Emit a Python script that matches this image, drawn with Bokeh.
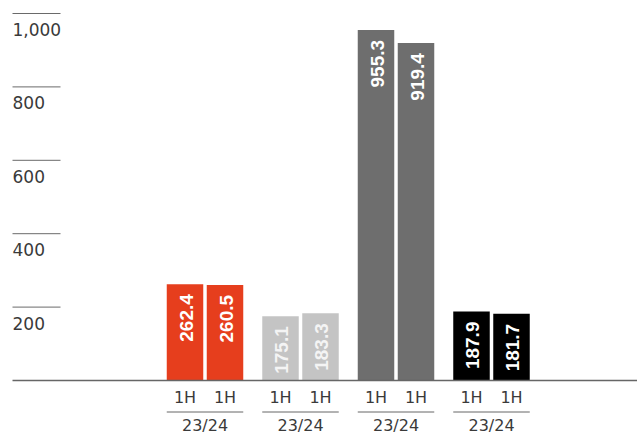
import math
from bokeh.plotting import figure
from bokeh.models import ColumnDataSource, Range1d
from bokeh.core.properties import value
from bokeh.embed import file_html
from bokeh.resources import INLINE

# ---- data ----
group_labels = ["23/24", "23/24", "23/24", "23/24"]
bar_labels = ["1H", "1H"]
first_values = [262.4, 175.1, 955.3, 187.9]
second_values = [260.5, 183.3, 919.4, 181.7]
group_colors = ["#e63e1d", "#c4c4c4", "#6e6e6e", "#000000"]
label_colors = ["#ffffff", "#f4f4f4", "#ffffff", "#ffffff"]
y_ticks = [200, 400, 600, 800, 1000]
y_tick_labels = ["200", "400", "600", "800", "1,000"]

# ---- layout ----
W, H = 637, 434
PX_X = 95.5           # pixels per group
X0 = -204.5 / PX_X
X1 = X0 + W / PX_X
PX_Y = 0.367          # pixels per unit
Y1 = 1000 + 13 / PX_Y
Y0 = -(H - 380) / PX_Y
OFF = 20 / PX_X
BW = 36.5 / PX_X

p = figure(width=W, height=H, output_backend="svg", toolbar_location=None,
           x_range=Range1d(X0, X1), y_range=Range1d(Y0, Y1),
           x_axis_type=None, y_axis_type=None, min_border=0)
p.outline_line_color = None
p.grid.visible = False
p.background_fill_color = "white"
p.border_fill_color = "white"

xs, tops, cols, lcols, blabels = [], [], [], [], []
for i in range(len(group_labels)):
    for j, v in enumerate([first_values[i], second_values[i]]):
        xs.append(i + (-OFF if j == 0 else OFF))
        tops.append(v)
        cols.append(group_colors[i])
        lcols.append(label_colors[i])
        blabels.append(bar_labels[j])

src = ColumnDataSource(dict(x=xs, top=tops, color=cols, lcolor=lcols,
                            txt=[f"{t:.1f}" for t in tops], blab=blabels))

# short gridlines at left
gx0 = X0 + 12 / PX_X
gx1 = X0 + 60 / PX_X
p.segment(x0=[gx0] * len(y_ticks), x1=[gx1] * len(y_ticks), y0=y_ticks, y1=y_ticks,
          line_color="#6a6a6a", line_width=1)
p.text(x=[gx0] * len(y_ticks), y=y_ticks, text=y_tick_labels, y_offset=16,
       text_font=value("DejaVu Sans"), text_font_size="17px", text_color="#3a3a3a",
       text_align="left", text_baseline="alphabetic")

# bars
p.vbar(x="x", top="top", bottom=0, width=BW, fill_color="color", line_color=None, source=src)

# baseline
p.segment(x0=[gx0], x1=[X1], y0=[0], y1=[0], line_color="#666666", line_width=1.5)

# value labels (rotated)
p.text(x="x", y="top", text="txt", angle=math.pi / 2, x_offset=1, y_offset=10,
       text_font=value("Liberation Sans"), text_font_style="bold", text_font_size="19px",
       text_color="lcolor", text_align="right", text_baseline="middle", source=src)

# category labels
p.text(x="x", y=0, text="blab", y_offset=17,
       text_font=value("DejaVu Sans"), text_font_size="16px", text_color="#3a3a3a",
       text_align="center", text_baseline="alphabetic", source=src)

gxs = list(range(len(group_labels)))
ul_y = -(411.5 - 380) / PX_Y
p.segment(x0=[g - OFF - BW / 2 for g in gxs], x1=[g + OFF + BW / 2 for g in gxs],
          y0=[ul_y] * len(gxs), y1=[ul_y] * len(gxs), line_color="#666666", line_width=1)
p.text(x=gxs, y=[0] * len(gxs), text=group_labels, y_offset=45,
       text_font=value("DejaVu Sans"), text_font_size="16px", text_color="#3a3a3a",
       text_align="center", text_baseline="alphabetic")

open("out.html", "w").write(file_html(p, INLINE))
